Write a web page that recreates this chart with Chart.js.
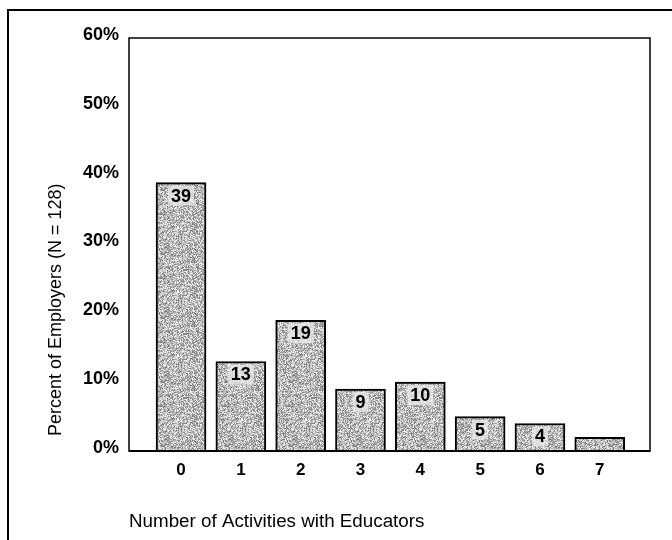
<!DOCTYPE html>
<html>
<head>
<meta charset="utf-8">
<script src="https://cdn.jsdelivr.net/npm/chart.js@4/dist/chart.umd.min.js"></script>
<style>
  html, body { margin: 0; padding: 0; background: #fff; }
  #wrap { width: 672px; height: 540px; position: relative; }
</style>
</head>
<body>
<div id="wrap"><canvas id="chart" width="672" height="540"></canvas></div>
<script>
// Number of activities (x categories)
const categories = [0, 1, 2, 3, 4, 5, 6, 7];
// Percent of employers for each count
const percents = [39, 13, 19, 9, 10, 5, 4, 2];
// Value labels printed inside the bars (last bar left unlabelled)
const barLabels = ['39', '13', '19', '9', '10', '5', '4', null];
// Y-axis tick values
const yTicks = [0, 10, 20, 30, 40, 50, 60];
const yTitle = 'Percent of Employers (N = 128)';
const xTitle = 'Number of Activities with Educators';

const FONT = "'Liberation Sans', Arial, sans-serif";

// Speckled grey fill for the bars, from a small deterministic hash texture
function makeSpeckle() {
  const size = 64;
  const c = document.createElement('canvas');
  c.width = size; c.height = size;
  const g = c.getContext('2d');
  const img = g.createImageData(size, size);
  for (let y = 0; y < size; y++) {
    for (let x = 0; x < size; x++) {
      let h = (x * 374761393 + y * 668265263) >>> 0;
      h = ((h ^ (h >>> 13)) * 1274126177) >>> 0;
      h = (h ^ (h >>> 16)) >>> 0;
      const v = 118 + (h % 135);
      const i = (y * size + x) * 4;
      img.data[i] = v; img.data[i + 1] = v; img.data[i + 2] = v; img.data[i + 3] = 255;
    }
  }
  g.putImageData(img, 0, 0);
  return g.createPattern(c, 'repeat');
}

// Outer frame, plot-area box and the rotated y-axis title
const framePlugin = {
  id: 'frame',
  beforeDraw(chart) {
    const ctx = chart.ctx;
    ctx.save();
    ctx.fillStyle = '#fff';
    ctx.fillRect(0, 0, chart.width, chart.height);
    ctx.strokeStyle = '#000';
    ctx.lineWidth = 2;
    ctx.beginPath();
    ctx.moveTo(8, chart.height);
    ctx.lineTo(8, 10);
    ctx.lineTo(chart.width, 10);
    ctx.stroke();
    // y-axis title, reading bottom to top
    ctx.translate(56, 436);
    ctx.rotate(-Math.PI / 2);
    ctx.fillStyle = '#000';
    ctx.font = "18px " + FONT;
    ctx.textAlign = 'left';
    ctx.textBaseline = 'middle';
    ctx.fillText(yTitle, 0, 0);
    ctx.restore();
  },
  afterDatasetsDraw(chart) {
    const a = chart.chartArea;
    const ctx = chart.ctx;
    ctx.save();
    ctx.strokeStyle = '#000';
    ctx.lineWidth = 1.5;
    ctx.strokeRect(a.left, a.top, a.right - a.left, a.bottom - a.top);
    ctx.lineWidth = 2;
    ctx.beginPath();
    ctx.moveTo(a.left, a.bottom);
    ctx.lineTo(a.right, a.bottom);
    ctx.stroke();
    ctx.restore();
  }
};

// Value labels just inside the top of each bar
const valueLabelPlugin = {
  id: 'valueLabels',
  afterDatasetsDraw(chart) {
    const meta = chart.getDatasetMeta(0);
    const ctx = chart.ctx;
    ctx.save();
    ctx.font = "bold 18px " + FONT;
    ctx.textAlign = 'center';
    ctx.textBaseline = 'middle';
    meta.data.forEach((bar, i) => {
      const txt = barLabels[i];
      if (!txt) return;
      const y = bar.y + 13;
      const w = ctx.measureText(txt).width;
      ctx.fillStyle = 'rgba(238,238,238,0.7)';
      ctx.fillRect(bar.x - w / 2 - 3, y - 10, w + 6, 20);
      ctx.fillStyle = '#000';
      ctx.fillText(txt, bar.x, y + 1);
    });
    ctx.restore();
  }
};

new Chart(document.getElementById('chart'), {
  type: 'bar',
  data: {
    datasets: [{
      data: categories.map((c, i) => ({ x: c, y: percents[i] })),
      backgroundColor: makeSpeckle(),
      borderColor: '#000',
      borderWidth: 2,
      borderSkipped: 'bottom',
      barThickness: 50
    }]
  },
  options: {
    responsive: false,
    animation: false,
    events: [],
    layout: { padding: { left: 0, top: 38, right: 22, bottom: 0 } },
    plugins: { legend: { display: false }, tooltip: { enabled: false } },
    scales: {
      x: {
        type: 'linear',
        offset: false,
        min: -0.87,
        max: 7.84,
        afterFit(scale) { scale.height = 540 - 451; },
        afterBuildTicks(scale) { scale.ticks = categories.map(v => ({ value: v })); },
        grid: { display: false, drawTicks: false },
        border: { display: false },
        ticks: {
          color: '#000',
          font: { family: FONT, size: 17, weight: 'bold' },
          padding: 9,
          maxRotation: 0,
          autoSkip: false,
          callback: v => String(v)
        },
        title: {
          display: true,
          text: xTitle,
          align: 'start',
          color: '#000',
          font: { family: FONT, size: 18.8 },
          padding: { top: 0, bottom: 7 }
        }
      },
      y: {
        min: 0,
        max: 60,
        afterFit(scale) { scale.width = 129; },
        afterBuildTicks(scale) { scale.ticks = yTicks.map(v => ({ value: v })); },
        grid: { display: false, drawTicks: false },
        border: { display: false },
        ticks: {
          color: '#000',
          font: { family: FONT, size: 18, weight: 'bold' },
          padding: 10,
          labelOffset: -3,
          callback: v => v + '%'
        }
      }
    }
  },
  plugins: [framePlugin, valueLabelPlugin]
});
</script>
</body>
</html>
